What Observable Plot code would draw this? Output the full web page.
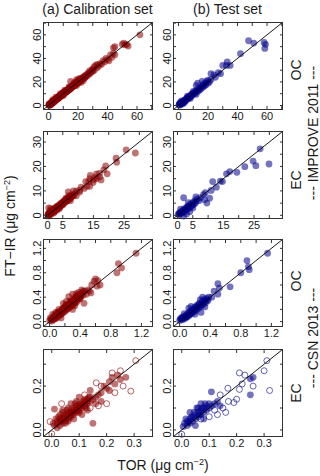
<!DOCTYPE html>
<html><head><meta charset="utf-8">
<script src="https://cdn.jsdelivr.net/npm/d3@7"></script>
<script src="https://cdn.jsdelivr.net/npm/@observablehq/plot@0.6"></script>
<style>
html,body{margin:0;padding:0;background:#fff;}
#chart{position:relative;width:320px;height:476px;overflow:hidden;font-family:"Liberation Sans",Arial,sans-serif;color:#1a1a1a;}
.lbl{position:absolute;white-space:nowrap;transform:translate(-50%,-50%);line-height:1;font-family:"Liberation Sans",Arial,sans-serif;}
.rot{transform:translate(-50%,-50%) rotate(-90deg);}
.lbl sup{font-size:0.65em;vertical-align:0.55em;line-height:0;}
#chart svg{position:absolute;overflow:visible;}
</style></head><body><div id="chart"></div>
<script>
// ---- text ----
const columnTitles = ["(a) Calibration set", "(b) Test set"];
const rowLabels = ["OC", "EC", "OC", "EC"];
const groupLabels = ["--- IMPROVE 2011 ---", "--- CSN 2013 ---"];
const xTitle = "TOR (μg cm<sup>−2</sup>)";
const yTitle = "FT−IR (μg cm<sup>−2</sup>)";

// ---- tick values ----
const ticksOCimp = [0, 10, 20, 30, 40, 50, 60, 70];
const labelsOCimp = [0, 20, 40, 60];
const ticksECimp = [0, 5, 10, 15, 20, 25, 30];
const xLabelsECimp = [0, 5, 15, 25];
const yLabelsECimp = [0, 10, 20, 30];
const ticksOCcsn = [0, 0.2, 0.4, 0.6, 0.8, 1.0, 1.2];
const labelsOCcsn = [0, 0.4, 0.8, 1.2];
const ticksECcsn = [0, 0.1, 0.2, 0.3];
const xLabelsECcsn = [0, 0.1, 0.2, 0.3];
const yLabelsECcsn = [0, 0.2];

// ---- data: [TOR, FT-IR] ----
const ocImpCal = [[0.2,0.3],[0.3,1],[0.5,0.8],[0.6,1.3],[0.7,0.4],[0.8,0.2],[1,1.5],[1.1,0.9],[1.2,0.6],[1.4,1.2],[1.5,2],[1.6,1.4],[1.8,1],[1.9,1.6],[2,1.8],[2,2.8],[2.1,2.4],[2.3,2.2],[2.5,2],[2.6,2.3],[2.7,2.9],[2.8,3.8],[3,3.2],[3,2.4],[3,5],[3.2,3.7],[3.4,3.1],[3.5,4],[3.6,3.3],[3.8,3],[4,3.6],[4,4.8],[4.1,4.4],[4.2,4.1],[4.5,4.2],[4.6,4.7],[4.8,5.1],[5,5.5],[5,4.4],[5,7],[5.1,4.9],[5.4,5.2],[5.5,6],[5.6,5.8],[5.9,6.3],[6,5.6],[6,6.8],[6.1,6.4],[6.3,5.9],[6.5,6.2],[6.6,6.5],[6.8,7.8],[7,7.5],[7,6.4],[7.1,6.8],[7.2,7.1],[7.5,8],[7.6,7.7],[7.8,7.3],[8,7.6],[8,8.8],[8,10],[8.1,8.3],[8.3,8.4],[8.5,8.2],[8.6,8.9],[8.8,9.4],[9,9.6],[9,8.5],[9.1,8.8],[9.3,9.1],[9.5,10],[9.6,9.7],[9.8,11],[10,9.4],[10,10.8],[10,8.5],[10.1,10.4],[10.3,10.1],[10.5,10.2],[10.6,10.8],[10.8,11.3],[11,11.8],[11,10.5],[11,13],[11.1,11.2],[11.3,11.1],[11.5,11.4],[11.6,11.9],[11.8,12.3],[12,12.6],[12,11.4],[12.1,12.3],[12.3,12.1],[12.5,13],[12.6,12.4],[12.8,12],[13,12.5],[13.1,13.2],[13.2,13.4],[13.5,14],[13.6,13.5],[13.8,13.1],[14,13.4],[14,14.8],[14,16],[14.1,14.6],[14.3,14.3],[14.5,14],[14.8,15.2],[15,15.8],[15,14.2],[15,20.5],[15.1,15.4],[15.3,15.1],[15.5,15.2],[15.8,16.3],[16,16.5],[16,15.4],[16.1,16.2],[16.3,15.9],[16.5,17],[16.8,18],[17,16.4],[17.2,17.3],[17.5,18],[17.5,19.5],[17.8,17.2],[18,17.5],[18,19],[18.3,18.4],[18.5,18],[19,20],[19,17],[19,22],[19.3,19.1],[19.5,18.6],[19.8,20.3],[20,20.5],[20,21.5],[20.4,19.8],[21,20],[21,23],[21.3,21.2],[21.5,22],[22,21.4],[22,19.5],[22.3,22.6],[22.5,23],[23,22.2],[23.5,21],[23.6,24],[24,24.5],[24,23],[24.6,24.1],[25,25.6],[25,24],[25.6,25.2],[26,26.5],[26.5,25.2],[27,28],[27.4,27],[28,27],[28,29.5],[29,28.5],[29.5,30],[30,31],[30,29],[31,33],[31,30],[32,34],[33,32],[33,35],[34,33.5],[35,35.5],[36,35],[37,38],[38,37],[39,40],[40,39],[41,38],[42,43],[43,41],[44,44.5],[45,43],[44,49],[45,50],[50,52],[51,53],[52,51.5],[53,52],[54,50.5],[62,60]];
const ocImpTest = [[0.3,0.4],[0.5,1],[0.8,1.2],[1,0.5],[1,2.5],[1.3,1.1],[1.5,2],[1.8,1.9],[2,1.5],[2,4],[2.3,2.2],[2.5,3],[2.8,2.9],[3,2.5],[3,1.5],[3.3,3.1],[3.5,4],[3.8,3.7],[4,3.5],[4,2.5],[4.3,4.4],[4.5,5],[4.8,4.6],[5,4.2],[5.3,5.2],[5.5,6],[5.8,5.9],[6,5.5],[6,8],[6.3,6.3],[6.5,7],[6.8,6.6],[7,6.3],[7.3,7.4],[7.5,8],[7.8,7.6],[8,7.5],[8,6],[8.5,9.2],[9,8.3],[9.3,9.4],[9.5,10],[10,9.5],[10,12],[10.5,11],[11,10.2],[11.5,12],[12,11.5],[12,9.5],[12,17],[12.5,13.5],[13,12.2],[13,19],[14,14.5],[14,13],[15,15.5],[15,13.8],[16,16.5],[16,20.5],[16.5,15.5],[17,18],[17.5,16.5],[18,19],[18.5,17.5],[19,20.5],[20,19],[20,21.5],[21,20],[22,22],[22,27],[24,26],[25,24],[27,28],[28.5,27],[30,34],[32.5,34],[33,37],[35,34],[42,44],[47.5,55],[51,53],[58,53.5],[59,52],[58.5,48.5]];
const ecImpCal = [[0.1,0.1],[0.2,0.3],[0.3,0.7],[0.5,0.2],[0.5,1],[0.6,0.7],[0.7,0.5],[0.8,0.3],[0.9,1.2],[1,0.8],[1,1.5],[1.1,2],[1.2,0.4],[1.3,1.1],[1.4,1.6],[1.5,1.2],[1.5,2],[1.8,1.6],[1.9,2.1],[2,1.7],[2,2.5],[2,1],[2.2,1.4],[2.3,2],[2.4,2.6],[2.5,2.2],[2.5,3],[2.8,2.5],[2.9,3.2],[3,2.7],[3,3.5],[3,2],[3,3],[3.3,3.1],[3.4,3.6],[3.5,3.2],[3.5,4],[3.7,2.6],[3.8,3.5],[3.9,4.1],[4,3.6],[4,4.5],[4,3],[4.3,4],[4.4,4.7],[4.5,4.2],[4.5,5],[4.8,4.5],[4.9,5.2],[5,4.6],[5,5.5],[5,4.2],[5.3,5],[5.4,5.6],[5.5,5.1],[5.5,6],[5.8,5.5],[5.9,6.2],[6,5.6],[6,6.5],[6,7],[6.3,6.1],[6.4,6.5],[6.5,6],[6.5,7],[6.8,6.6],[6.9,7.1],[7,6.5],[7,7.5],[7,8],[7.3,7.1],[7.4,7.6],[7.5,7],[7.5,6],[7.8,7.5],[8,7.8],[8,8.5],[8.5,8],[9,9],[6.8,9.6],[0.4,3],[1,2.8],[0.3,-0.3],[9.4,8],[8.3,8],[9.5,10],[10.5,10.2],[8.5,10],[10.5,9.5],[11,11.5],[12,11],[12.5,13.8],[12.9,11.9],[13.5,13.8],[13.8,11.9],[13.8,15],[14,16.3],[14.9,13.4],[15,14.5],[15.5,15.5],[16,15],[16,17],[17,15.7],[17,17.2],[17.5,14.5],[18.4,18.6],[19,20.2],[19.5,17],[22.4,23.4],[22.6,21.7],[25.7,26.8],[28.7,25.5]];
const ecImpTest = [[0.2,0.5],[0.5,0.2],[0.6,0.9],[0.8,1],[1,0.6],[1,2.5],[1.2,1.5],[1.4,1.3],[1.5,1],[1.8,2],[2,1.4],[2,-0.3],[2,7.2],[2.2,2.6],[2.4,2.2],[2.5,1.8],[2.8,3],[3,2.3],[3,0.5],[3.2,3.6],[3.4,3.2],[3.5,2.8],[3.5,5.2],[3.8,4],[4,3.2],[4,1.5],[4.2,4.5],[4.4,4.1],[4.5,3.7],[4.8,5],[5,4.2],[5,3],[5.2,5.5],[5.5,4.6],[5.8,6],[6,5.2],[6,7.5],[6.5,6.6],[7,6],[7.5,7.2],[8.5,8.5],[9.1,9.3],[8.8,6.4],[9.6,5],[10.5,7],[11,10.2],[12.7,11.5],[11.5,13.8],[14,14],[14.7,13.8],[16,17],[17.1,17.9],[19.4,17.6],[22,19.9],[24.7,22.2],[25.6,20.3],[27,27.2],[29.9,21]];
const ocCsnCal = [[0,0.02],[0.01,0.06],[0.02,0.05],[0.02,0.03],[0.03,0.01],[0.04,0.12],[0.04,0.04],[0.05,0.07],[0.05,0.03],[0.06,0.1],[0.06,0.06],[0.07,0.09],[0.07,0.05],[0.08,0.05],[0.08,0.15],[0.08,0.08],[0.09,0.1],[0.09,0.13],[0.1,0.12],[0.1,0.07],[0.11,0.16],[0.11,0.1],[0.11,0.12],[0.12,0.14],[0.12,0.09],[0.12,0.2],[0.13,0.13],[0.13,0.16],[0.14,0.17],[0.14,0.11],[0.14,0.14],[0.15,0.06],[0.15,0.15],[0.16,0.19],[0.16,0.13],[0.16,0.16],[0.17,0.22],[0.17,0.16],[0.17,0.18],[0.18,0.21],[0.18,0.15],[0.18,0.3],[0.19,0.19],[0.19,0.22],[0.2,0.24],[0.2,0.17],[0.2,0.2],[0.21,0.27],[0.21,0.21],[0.21,0.24],[0.22,0.26],[0.22,0.19],[0.22,0.33],[0.23,0.23],[0.23,0.25],[0.24,0.28],[0.24,0.21],[0.24,0.26],[0.25,0.41],[0.25,0.25],[0.25,0.28],[0.26,0.3],[0.26,0.23],[0.26,0.27],[0.27,0.34],[0.27,0.27],[0.27,0.3],[0.28,0.32],[0.28,0.25],[0.28,0.29],[0.29,0.29],[0.29,0.33],[0.3,0.34],[0.3,0.27],[0.3,0.2],[0.3,0.45],[0.3,0.31],[0.31,0.31],[0.31,0.35],[0.32,0.36],[0.32,0.29],[0.32,0.33],[0.33,0.26],[0.33,0.4],[0.33,0.37],[0.34,0.38],[0.34,0.31],[0.34,0.35],[0.35,0.46],[0.35,0.35],[0.35,0.39],[0.36,0.4],[0.36,0.33],[0.36,0.37],[0.37,0.44],[0.37,0.4],[0.38,0.42],[0.38,0.48],[0.38,0.38],[0.39,0.37],[0.39,0.42],[0.4,0.44],[0.4,0.38],[0.4,0.41],[0.41,0.41],[0.42,0.46],[0.42,0.52],[0.43,0.47],[0.44,0.43],[0.44,0.5],[0.45,0.3],[0.46,0.5],[0.48,0.45],[0.5,0.52],[0.52,0.5],[0.54,0.47],[0.55,0.6],[0.58,0.66],[0.6,0.7],[0.62,0.58],[0.63,0.67],[0.66,0.6],[0.88,0.8],[0.9,0.95],[0.94,0.88],[1.13,1.12]];
const ocCsnTest = [[0,0.02],[0.01,0.05],[0.02,0.04],[0.03,0.07],[0.04,0.03],[0.04,0.06],[0.05,0.08],[0.06,0.13],[0.06,0.07],[0.07,0.05],[0.08,0.1],[0.08,0.08],[0.09,0.07],[0.1,0.08],[0.1,0.11],[0.11,0.14],[0.12,0.22],[0.12,0.1],[0.13,0.11],[0.13,0.15],[0.14,0.17],[0.15,0.25],[0.15,0.13],[0.16,0.14],[0.16,0.18],[0.17,0.2],[0.18,0.17],[0.19,0.16],[0.19,0.21],[0.2,0.24],[0.2,0.12],[0.21,0.2],[0.22,0.19],[0.22,0.24],[0.23,0.27],[0.24,0.23],[0.25,0.22],[0.25,0.28],[0.26,0.3],[0.27,0.36],[0.27,0.26],[0.28,0.25],[0.28,0.15],[0.29,0.33],[0.3,0.4],[0.3,0.3],[0.31,0.28],[0.32,0.36],[0.33,0.24],[0.33,0.33],[0.34,0.31],[0.35,0.38],[0.36,0.36],[0.37,0.34],[0.38,0.4],[0.42,0.4],[0.45,0.5],[0.5,0.62],[0.52,0.55],[0.5,0.45],[0.66,0.57],[0.8,0.8],[0.88,1.0],[0.9,0.9],[0.91,0.85],[1.15,1.12]];
const ecCsnCalFilled = [[0.005,0.03],[0.01,0.02],[0.01,0.095],[0.015,0.05],[0.02,0.01],[0.02,0.04],[0.02,0.03],[0.025,0.06],[0.03,0.02],[0.03,0.05],[0.03,0.07],[0.03,0.04],[0.035,0.04],[0.04,0.03],[0.04,0.06],[0.04,0.09],[0.04,0.05],[0.04,0.08],[0.045,0.05],[0.05,0.04],[0.05,0.07],[0.05,0.03],[0.05,0.06],[0.05,0.05],[0.055,0.09],[0.06,0.05],[0.06,0.08],[0.06,0.1],[0.06,0.07],[0.06,0.04],[0.065,0.06],[0.07,0.06],[0.07,0.09],[0.07,0.12],[0.07,0.07],[0.07,0.08],[0.075,0.08],[0.08,0.07],[0.08,0.1],[0.08,0.05],[0.08,0.09],[0.08,0.08],[0.085,0.12],[0.09,0.08],[0.09,0.11],[0.09,0.13],[0.09,0.1],[0.09,0.09],[0.095,0.09],[0.1,0.09],[0.1,0.12],[0.1,0.15],[0.1,0.11],[0.1,0.1],[0.1,0.08],[0.105,0.11],[0.11,0.1],[0.11,0.07],[0.11,0.12],[0.11,0.11],[0.115,0.13],[0.12,0.11],[0.12,0.13],[0.12,0.12],[0.12,0.14],[0.125,0.1],[0.13,0.12],[0.13,0.09],[0.13,0.13],[0.13,0.14],[0.135,0.15],[0.14,0.13],[0.14,0.18],[0.14,0.15],[0.15,0.14],[0.15,0.03],[0.16,0.15],[0.16,0.12],[0.17,0.16],[0.18,0.17],[0.18,0.13],[0.19,0.2],[0.2,0.19],[0.21,0.22],[0.21,0.18],[0.22,0.24],[0.23,0.21],[0.24,0.25],[0.25,0.23],[0.27,0.24]];
const ecCsnCalOpen = [[0,-0.018],[-0.006,0.038],[0.036,0.12],[0.12,0.16],[0.14,0.1],[0.162,0.215],[0.17,0.11],[0.18,0.2],[0.2,0.12],[0.22,0.26],[0.23,0.17],[0.25,0.27],[0.26,0.2],[0.288,0.177],[0.306,0.316]];
const ecCsnTestFilled = [[0.005,0.015],[0.01,0.03],[0.015,0.05],[0.02,0.02],[0.02,0.04],[0.025,0.035],[0.03,0.03],[0.03,0.05],[0.03,0.08],[0.035,0.06],[0.04,0.04],[0.04,0.06],[0.045,0.08],[0.05,0.05],[0.05,0.07],[0.05,0.02],[0.055,0.1],[0.06,0.06],[0.06,0.08],[0.06,0.1],[0.065,0.07],[0.07,0.07],[0.07,0.09],[0.07,0.12],[0.075,0.1],[0.08,0.08],[0.08,0.1],[0.08,0.05],[0.085,0.12],[0.09,0.09],[0.09,0.11],[0.1,0.1],[0.1,0.12],[0.108,0.174],[0.11,0.11],[0.12,0.12],[0.13,0.13],[0.14,0.11],[0.25,0.16],[0.25,0.233],[0.26,0.24]];
const ecCsnTestOpen = [[0,-0.02],[0.07,0.05],[0.1,0.06],[0.12,0.09],[0.13,0.07],[0.14,0.16],[0.15,0.1],[0.16,0.08],[0.168,0.19],[0.17,0.13],[0.19,0.125],[0.2,0.14],[0.21,0.185],[0.21,0.26],[0.22,0.21],[0.23,0.25],[0.26,0.2],[0.3,0.27],[0.31,0.316],[0.32,0.18]];

// ---- panel setup (one row per species/network) ----
const f1 = d3.format(".1f");
const rows = [
  {domain: [-3.4, 70.5], ticks: ticksOCimp, xl: labelsOCimp, yl: labelsOCimp, fmt: d => String(d), cal: ocImpCal, test: ocImpTest},
  {domain: [-1.3, 34.3], ticks: ticksECimp, xl: xLabelsECimp, yl: yLabelsECimp, fmt: d => String(d), cal: ecImpCal, test: ecImpTest},
  {domain: [-0.08, 1.345], ticks: ticksOCcsn, xl: labelsOCcsn, yl: labelsOCcsn, fmt: f1, cal: ocCsnCal, test: ocCsnTest},
  {domain: [-0.03, 0.367], ticks: ticksECcsn, xl: xLabelsECcsn, yl: yLabelsECcsn, fmt: f1, cal: ecCsnCalFilled, test: ecCsnTestFilled, calOpen: ecCsnCalOpen, testOpen: ecCsnTestOpen}
];
const colors = ["#8B0000", "#00008B"];
const colLeft = [43, 173];
const rowTop = [22, 131, 239, 349];
const W = 109, H = 87;
const ML = 24, MR = 2, MT = 2, MB = 18;

const chart = document.getElementById("chart");

function panel(row, pts, open, color) {
  const get = {x: d => d[0], y: d => d[1]};
  return Plot.plot({
    width: W + ML + MR, height: H + MT + MB,
    marginLeft: ML, marginRight: MR, marginTop: MT, marginBottom: MB,
    x: {domain: row.domain}, y: {domain: row.domain},
    style: {fontFamily: "Liberation Sans, Arial, sans-serif", fontSize: "11px", color: "#1a1a1a", background: "transparent"},
    marks: [
      Plot.dot(pts, {...get, r: 3.4, fill: color, fillOpacity: 0.55, stroke: "none"}),
      open ? Plot.dot(open, {...get, r: 3, fill: "none", stroke: color, strokeOpacity: 0.6, strokeWidth: 1}) : null,
      Plot.line(row.domain, {x: d => d, y: d => d, stroke: "#000", strokeWidth: 0.9}),
      Plot.frame({stroke: "#333", strokeWidth: 1}),
      Plot.axisX(row.ticks, {anchor: "bottom", tickSize: -3, fill: "none", stroke: "#333", label: null}),
      Plot.axisX(row.ticks, {anchor: "top", tickSize: -3, fill: "none", stroke: "#333", label: null}),
      Plot.axisY(row.ticks, {anchor: "left", tickSize: -3, fill: "none", stroke: "#333", label: null}),
      Plot.axisY(row.ticks, {anchor: "right", tickSize: -3, fill: "none", stroke: "#333", label: null}),
      Plot.axisX(row.xl, {anchor: "bottom", tickSize: 0, tickPadding: 3, tickFormat: row.fmt, label: null}),
      Plot.axisY(row.yl, {anchor: "left", tickSize: 0, tickPadding: 3, tickRotate: -90, tickFormat: row.fmt, label: null})
    ]
  });
}

rows.forEach((row, i) => {
  [[row.cal, row.calOpen], [row.test, row.testOpen]].forEach(([pts, open], j) => {
    const svg = panel(row, pts, open, colors[j]);
    svg.style.left = (colLeft[j] - ML) + "px";
    svg.style.top = (rowTop[i] - MT) + "px";
    chart.appendChild(svg);
  });
});

function addLabel(html, x, y, size, rotate) {
  const d = document.createElement("div");
  d.className = "lbl" + (rotate ? " rot" : "");
  d.innerHTML = html;
  d.style.left = x + "px";
  d.style.top = y + "px";
  d.style.fontSize = size + "px";
  chart.appendChild(d);
}
columnTitles.forEach((t, j) => addLabel(t, colLeft[j] + W / 2, 9, 14, false));
const rowLabelY = [70, 180, 281, 393];
rowLabels.forEach((t, i) => addLabel(t, 296, rowLabelY[i], 14, true));
addLabel(groupLabels[0], 313, 133, 14, true);
addLabel(groupLabels[1], 313, 338, 14, true);
addLabel(yTitle, 10, 226, 14, true);
addLabel(xTitle, 163, 465, 14, false);
</script></body></html>
